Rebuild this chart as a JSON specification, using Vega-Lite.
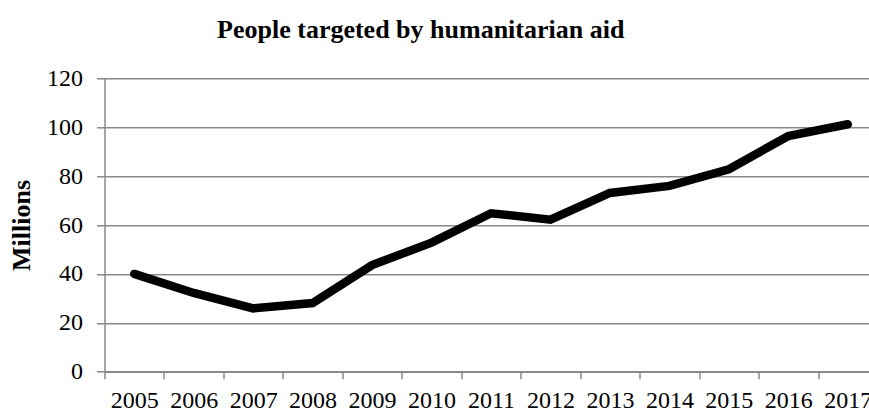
{
  "$schema": "https://vega.github.io/schema/vega-lite/v6.json",
  "autosize": {"type": "none"},
  "width": 764.5,
  "height": 293.4,
  "padding": {"left": 104.5, "top": 78.3, "right": 0, "bottom": 42.3},
  "background": "white",
  "title": {
    "text": "People targeted by humanitarian aid",
    "font": "Liberation Serif",
    "fontSize": 26,
    "fontWeight": "bold",
    "color": "black",
    "anchor": "middle",
    "frame": "group",
    "dx": -66,
    "offset": 23
  },
  "data": {
    "values": [
      {"year": "2005", "value": 40},
      {"year": "2006", "value": 32.2},
      {"year": "2007", "value": 25.9},
      {"year": "2008", "value": 28.1},
      {"year": "2009", "value": 43.6},
      {"year": "2010", "value": 52.8},
      {"year": "2011", "value": 64.8},
      {"year": "2012", "value": 62.2},
      {"year": "2013", "value": 73.1},
      {"year": "2014", "value": 76},
      {"year": "2015", "value": 82.8},
      {"year": "2016", "value": 96.4},
      {"year": "2017", "value": 101.2}
    ]
  },
  "mark": {"type": "line", "color": "black", "strokeWidth": 8.5, "strokeCap": "round", "strokeJoin": "miter"},
  "encoding": {
    "x": {
      "field": "year",
      "type": "ordinal",
      "scale": {"type": "band", "paddingInner": 0, "paddingOuter": 0, "range": [0, 773]},
      "axis": {
        "title": null,
        "labelAngle": 0,
        "labelFont": "Liberation Serif",
        "labelFontSize": 24,
        "labelColor": "black",
        "labelPadding": 10,
        "tickBand": "extent",
        "ticks": true,
        "tickColor": "#898989",
        "tickSize": 7,
        "tickWidth": 1.5,
        "domainColor": "#898989",
        "domainWidth": 1.5,
        "grid": false
      }
    },
    "y": {
      "field": "value",
      "type": "quantitative",
      "scale": {"domain": [0, 120], "nice": false, "zero": true},
      "axis": {
        "title": "Millions",
        "titleFont": "Liberation Serif",
        "titleFontSize": 26,
        "titleFontWeight": "bold",
        "titleColor": "black",
        "titlePadding": 12,
        "values": [0, 20, 40, 60, 80, 100, 120],
        "labelFont": "Liberation Serif",
        "labelFontSize": 24,
        "labelColor": "black",
        "labelPadding": 14,
        "tickColor": "#898989",
        "tickSize": 8,
        "tickWidth": 1.5,
        "domainColor": "#898989",
        "domainWidth": 1.5,
        "grid": true,
        "gridColor": "#898989",
        "gridWidth": 1.5
      }
    }
  },
  "config": {"view": {"stroke": null}}
}
